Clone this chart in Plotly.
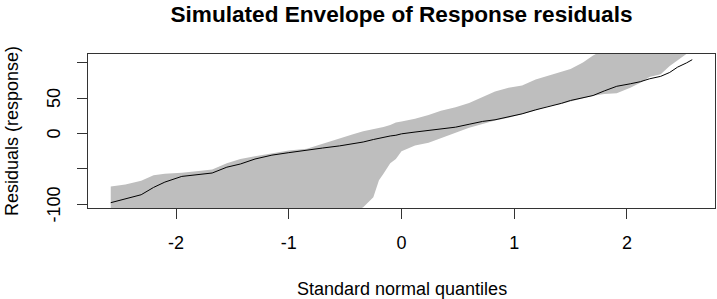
import plotly.graph_objects as go

# Theoretical quantiles
quantiles = [-2.58, -2.45, -2.31, -2.2, -2.1, -1.95, -1.8, -1.68, -1.55, -1.43,
             -1.3, -1.15, -1.0, -0.84, -0.7, -0.55, -0.43, -0.34, -0.25, -0.2,
             -0.16, -0.1, -0.05, 0.0, 0.12, 0.24, 0.35, 0.48, 0.6, 0.72,
             0.83, 0.95, 1.07, 1.19, 1.3, 1.42, 1.5, 1.61, 1.7, 1.8,
             1.91, 2.03, 2.12, 2.2, 2.3, 2.38, 2.45, 2.53, 2.58]

# Observed (sorted) response residuals
residuals = [-97.5, -92, -86.3, -76, -68.5, -60.5, -58, -55.7, -47.5, -43,
             -36, -30.5, -27, -23, -20.5, -17.5, -14.5, -12, -8.5, -6.5,
             -5, -3.5, -2.5, -0.5, 2, 4.2, 6, 8.9, 13, 17,
             19.3, 23.5, 27.7, 33.3, 37.5, 42.5, 46.5, 50, 53.5, 60,
             66.5, 70, 73, 77, 80.5, 86, 93.5, 99.5, 104]

# Simulated envelope bounds
upper_env = [-74.6, -72, -66.5, -59, -56.8, -55.5, -53, -50.7, -42, -36,
             -32, -28, -24, -21.6, -14.5, -6.5, -1, 3, 6, 7.5,
             9, 12, 15.5, 17, 20.7, 26, 32, 37, 43, 51.5,
             59, 64.5, 67.6, 76, 81.5, 87, 91, 100, 110, 118,
             125, 132, 138, 145, 152, 160, 170, 180, 190]

lower_env = [-230, -220, -210, -200, -195, -185, -178, -172, -165, -160,
             -152, -146, -140, -133, -126, -119, -112, -104, -89.7, -66,
             -56.8, -42, -36, -25, -17, -13, -7, 1, 8, 13.5,
             18.3, 22, 27, 32.4, 38.5, 42, 45, 49, 53, 55.5,
             56.8, 64.4, 71.6, 79.5, 83.5, 95, 103, 112, 118]

x_ticks = [-2, -1, 0, 1, 2]
x_ticktext = ["-2", "-1", "0", "1", "2"]
y_ticks = [-100, -50, 0, 50, 100]
y_ticktext = ["-100", "", "0", "50", ""]

FONT = "Liberation Sans, Arial, sans-serif"

fig = go.Figure()
fig.add_trace(go.Scatter(
    x=quantiles + quantiles[::-1],
    y=upper_env + lower_env[::-1],
    fill="toself", fillcolor="#BEBEBE",
    line=dict(width=0), mode="lines", hoverinfo="skip", showlegend=False,
))
fig.add_trace(go.Scatter(
    x=quantiles, y=residuals, mode="lines",
    line=dict(color="black", width=1), showlegend=False,
))

axis_common = dict(
    showline=True, mirror=True, linecolor="#333333", linewidth=1.3,
    ticks="outside", ticklen=10, tickwidth=1, tickcolor="#333333",
    showgrid=False, zeroline=False,
    tickfont=dict(family=FONT, size=18, color="black"),
)

annotations = [
    dict(text="Standard normal quantiles", xref="paper", yref="paper",
         x=0.5, y=-(288 - 207.5) / 153.5, xanchor="center", yanchor="middle",
         showarrow=False, font=dict(family=FONT, size=18, color="black")),
    dict(text="Residuals (response)", xref="paper", yref="paper",
         x=-(88 - 12) / 627, y=0.5, xanchor="center", yanchor="middle",
         textangle=-90, showarrow=False,
         font=dict(family=FONT, size=18, color="black")),
]
for v, t in zip(y_ticks, y_ticktext):
    if t:
        annotations.append(dict(
            text=t, xref="paper", yref="y", x=-(88 - 54) / 627, y=v,
            xanchor="center", yanchor="middle", textangle=-90, showarrow=False,
            font=dict(family=FONT, size=18, color="black")))

fig.update_layout(
    width=717, height=299,
    margin=dict(l=88, r=2, t=54, b=91),
    paper_bgcolor="white", plot_bgcolor="white",
    xaxis=dict(range=[-2.782, 2.782], tickvals=x_ticks, ticktext=x_ticktext,
               ticklabelstandoff=8, **axis_common),
    yaxis=dict(range=[-105, 112], tickvals=y_ticks, showticklabels=False,
               **axis_common),
    title=dict(text="<b>Simulated Envelope of Response residuals</b>",
               font=dict(family=FONT, size=22.6, color="black"),
               x=0.5, xref="paper", xanchor="center",
               y=1 - 14 / 299, yref="container", yanchor="middle"),
    annotations=annotations,
)

fig.write_html("out.html", config={"displayModeBar": False},
               post_script="document.body.style.margin='0';")
